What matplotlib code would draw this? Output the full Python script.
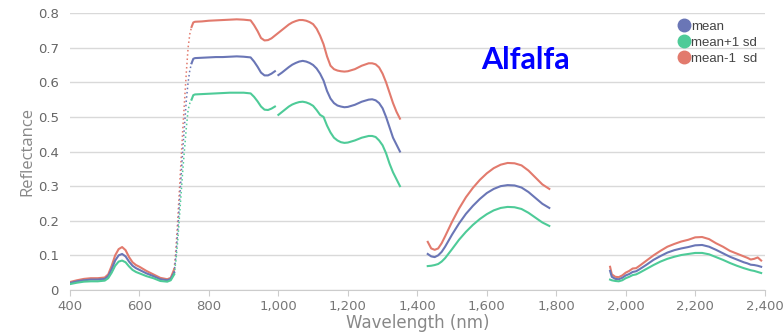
import numpy as np
import matplotlib
matplotlib.use("Agg")
import matplotlib.pyplot as plt
from matplotlib.lines import Line2D

# visible part 400-700 nm
wl_vis = [400, 420, 440, 460, 480, 500, 510, 520, 530, 540, 550, 560, 570, 580, 590, 600, 620, 640, 660, 680, 690, 700]
mean_vis = [0.020, 0.025, 0.028, 0.030, 0.030, 0.032, 0.040, 0.060, 0.085, 0.100, 0.104, 0.097, 0.082, 0.070, 0.063, 0.058, 0.048, 0.040, 0.031, 0.028, 0.032, 0.050]
plus_vis = [0.017, 0.021, 0.024, 0.025, 0.025, 0.027, 0.034, 0.050, 0.070, 0.082, 0.085, 0.080, 0.068, 0.058, 0.052, 0.048, 0.040, 0.034, 0.026, 0.024, 0.028, 0.045]
minus_vis = [0.023, 0.028, 0.032, 0.034, 0.034, 0.036, 0.045, 0.070, 0.100, 0.118, 0.124, 0.115, 0.095, 0.080, 0.072, 0.067, 0.055, 0.045, 0.035, 0.031, 0.035, 0.060]

# red edge 700-750 nm (sparse, drawn dotted)
wl_edge = [700, 705, 710, 715, 720, 725, 730, 735, 740, 745, 750]
mean_edge = [0.050, 0.100, 0.170, 0.250, 0.330, 0.410, 0.480, 0.550, 0.600, 0.635, 0.655]
plus_edge = [0.045, 0.085, 0.140, 0.210, 0.280, 0.350, 0.410, 0.470, 0.520, 0.540, 0.550]
minus_edge = [0.060, 0.120, 0.200, 0.290, 0.380, 0.470, 0.550, 0.630, 0.700, 0.740, 0.760]

# near infrared 750-1350 nm (nan = gap)
wl_nir = [750, 755, 760, 780, 800, 820, 840, 860, 880, 900, 920, 930, 940, 950, 960, 970, 980, 990, 995,
          1000, 1010, 1020, 1030, 1040, 1050, 1060, 1070, 1080, 1090, 1100, 1110, 1120, 1130, 1140, 1150,
          1160, 1170, 1180, 1190, 1200, 1220, 1240, 1260, 1270, 1280, 1290, 1300, 1310, 1320, 1330, 1340, 1350]
mean_nir = [0.655, 0.668, 0.670, 0.671, 0.672, 0.673, 0.673, 0.674, 0.675, 0.674, 0.672, 0.660, 0.645, 0.628, 0.620, 0.620, 0.625, 0.632, np.nan,
            0.621, 0.628, 0.636, 0.644, 0.651, 0.656, 0.660, 0.662, 0.660, 0.656, 0.650, 0.640, 0.625, 0.605, 0.575, 0.553,
            0.540, 0.533, 0.530, 0.528, 0.529, 0.535, 0.544, 0.550, 0.551, 0.548, 0.540, 0.525, 0.500, 0.470, 0.440, 0.420, 0.400]
plus_nir = [0.550, 0.563, 0.565, 0.566, 0.567, 0.568, 0.569, 0.570, 0.570, 0.570, 0.568, 0.558, 0.545, 0.530, 0.521, 0.520, 0.524, 0.530, np.nan,
            0.506, 0.514, 0.522, 0.530, 0.536, 0.540, 0.543, 0.544, 0.542, 0.538, 0.532, 0.520, 0.506, 0.500, 0.475, 0.455,
            0.440, 0.432, 0.427, 0.425, 0.426, 0.432, 0.440, 0.445, 0.445, 0.442, 0.432, 0.418, 0.395, 0.365, 0.340, 0.320, 0.300]
minus_nir = [0.760, 0.773, 0.775, 0.776, 0.778, 0.779, 0.780, 0.781, 0.782, 0.781, 0.779, 0.765, 0.748, 0.728, 0.721, 0.722, 0.727, 0.735, 0.739,
             0.743, 0.751, 0.759, 0.767, 0.773, 0.777, 0.780, 0.780, 0.778, 0.774, 0.768, 0.755, 0.735, 0.710, 0.675, 0.648,
             0.638, 0.634, 0.632, 0.631, 0.632, 0.638, 0.648, 0.655, 0.655, 0.652, 0.643, 0.625, 0.600, 0.570, 0.540, 0.515, 0.495]

# SWIR 1430-1780 nm
wl_swir1 = [1430, 1440, 1450, 1460, 1470, 1480, 1500, 1520, 1540, 1560, 1580, 1600, 1620, 1640, 1660, 1680, 1700, 1720, 1740, 1760, 1780]
mean_swir1 = [0.104, 0.097, 0.095, 0.100, 0.110, 0.125, 0.160, 0.192, 0.220, 0.243, 0.263, 0.280, 0.292, 0.300, 0.303, 0.302, 0.296, 0.283, 0.266, 0.249, 0.237]
plus_swir1 = [0.069, 0.070, 0.072, 0.075, 0.082, 0.092, 0.118, 0.145, 0.168, 0.188, 0.205, 0.219, 0.230, 0.237, 0.240, 0.239, 0.234, 0.223, 0.209, 0.195, 0.185]
minus_swir1 = [0.139, 0.120, 0.116, 0.120, 0.135, 0.155, 0.197, 0.235, 0.268, 0.295, 0.318, 0.337, 0.352, 0.362, 0.367, 0.366, 0.360, 0.345, 0.325, 0.305, 0.292]

# SWIR 1955-2390 nm
wl_swir2 = [1955, 1960, 1970, 1980, 1990, 2000, 2010, 2020, 2030, 2040, 2060, 2080, 2100, 2120, 2140, 2160, 2180, 2200, 2220,
            2240, 2260, 2280, 2300, 2320, 2340, 2350, 2360, 2370, 2380, 2390]
mean_swir2 = [0.055, 0.038, 0.032, 0.031, 0.035, 0.042, 0.046, 0.052, 0.054, 0.060, 0.073, 0.087, 0.098, 0.108, 0.115, 0.120, 0.124, 0.129, 0.130,
              0.125, 0.116, 0.106, 0.096, 0.088, 0.080, 0.077, 0.073, 0.072, 0.070, 0.067]
plus_swir2 = [0.030, 0.028, 0.026, 0.025, 0.028, 0.034, 0.038, 0.043, 0.045, 0.050, 0.061, 0.072, 0.082, 0.090, 0.096, 0.101, 0.104, 0.107, 0.107,
              0.103, 0.095, 0.087, 0.078, 0.070, 0.063, 0.060, 0.057, 0.055, 0.052, 0.049]
minus_swir2 = [0.067, 0.045, 0.038, 0.037, 0.042, 0.050, 0.055, 0.062, 0.063, 0.070, 0.085, 0.100, 0.113, 0.125, 0.133, 0.140, 0.145, 0.152, 0.153,
               0.147, 0.135, 0.125, 0.113, 0.105, 0.097, 0.093, 0.088, 0.090, 0.094, 0.085]

labels = ["mean", "mean+1 sd", "mean-1  sd"]
c_mean = "#6A76B6"
c_plus = "#4ECB98"
c_minus = "#E27A6D"

fig = plt.figure(figsize=(7.84, 3.36), dpi=100)
ax = fig.add_axes([0.0893, 0.137, 0.886, 0.824])

solid = [(wl_vis, mean_vis, plus_vis, minus_vis),
         (wl_nir, mean_nir, plus_nir, minus_nir),
         (wl_swir1, mean_swir1, plus_swir1, minus_swir1),
         (wl_swir2, mean_swir2, plus_swir2, minus_swir2)]
for wl, m, p, mi in solid:
    ax.plot(wl, mi, color=c_minus, lw=1.5, zorder=3)
    ax.plot(wl, m, color=c_mean, lw=1.5, zorder=4)
    ax.plot(wl, p, color=c_plus, lw=1.5, zorder=5)

ax.plot(wl_edge, minus_edge, color=c_minus, lw=1.1, ls=(0, (1, 1.8)), zorder=3)
ax.plot(wl_edge, mean_edge, color=c_mean, lw=1.1, ls=(0, (1, 1.8)), zorder=4)
ax.plot(wl_edge, plus_edge, color=c_plus, lw=1.1, ls=(0, (1, 1.8)), zorder=5)

ax.set_xlim(400, 2400)
ax.set_ylim(0, 0.8)
ax.set_xticks(np.arange(400, 2401, 200))
ax.set_xticklabels([f"{v:,}" for v in range(400, 2401, 200)])
ax.set_yticks(np.arange(0, 0.81, 0.1))
ax.set_yticklabels(["0"] + [f"{v/10:.1f}" for v in range(1, 9)])
ax.grid(axis="y", color="#d9d9d9", lw=1)
ax.set_axisbelow(True)
for s in ["top", "right", "left"]:
    ax.spines[s].set_visible(False)
ax.spines["bottom"].set_color("#cccccc")
ax.tick_params(axis="y", length=0, pad=8, labelsize=9.5, labelcolor="#666666")
ax.tick_params(axis="x", length=4, color="#cccccc", pad=3, labelsize=9.5, labelcolor="#777777")

ax.set_xlabel("Wavelength (nm)", fontsize=12, color="#888888", labelpad=1)
ax.set_ylabel("Reflectance", fontsize=12, color="#888888", labelpad=2, family="Open Sans")

ax.text(1710, 0.665, "Alfalfa", fontsize=22, fontweight="bold", color="#0000FF",
        ha="center", va="center", family="Lato")

handles = [Line2D([], [], ls="", marker="o", ms=9, color=c) for c in (c_mean, c_plus, c_minus)]
leg = ax.legend(handles, labels, loc="upper right", bbox_to_anchor=(1.0, 1.0), frameon=False,
                handletextpad=0.05, labelspacing=0.3, handlelength=1.0, borderaxespad=0.15,
                prop={"family": "Liberation Sans", "size": 9.5})
for t in leg.get_texts():
    t.set_color("#444444")

fig.savefig("out.png", dpi=100)
